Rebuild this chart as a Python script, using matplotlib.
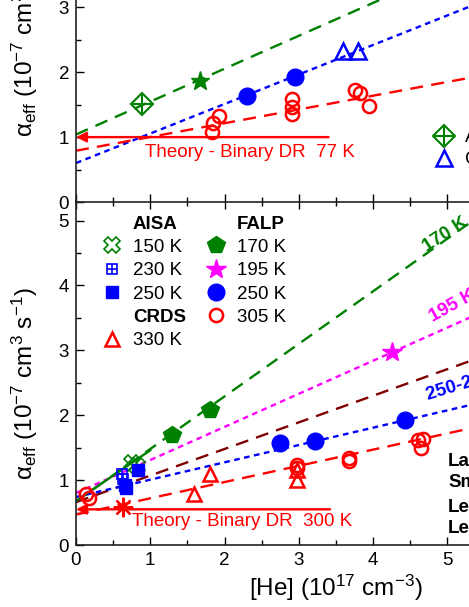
import numpy as np
import matplotlib.pyplot as plt
from matplotlib.lines import Line2D

plt.rcParams['font.family'] = ['Liberation Sans', 'DejaVu Sans']
plt.rcParams['mathtext.default'] = 'regular'

# lower panel data (x in 1e17 cm-3, alpha in 1e-7 cm3 s-1)
aisa150_x = [0.75, 0.82]
aisa150_y = [1.27, 1.22]
aisa230_x = [0.62, 0.63]
aisa230_y = [1.10, 1.02]
aisa250_x = [0.66, 0.68, 0.83]
aisa250_y = [0.93, 0.88, 1.16]
crds330_x = [1.59, 1.80, 2.98, 2.98]
crds330_y = [0.78, 1.09, 1.15, 1.00]
falp170_x = [1.29, 1.81]
falp170_y = [1.69, 2.08]
falp195_x = [4.26]
falp195_y = [2.97]
falp250_x = [2.75, 3.22, 4.43]
falp250_y = [1.57, 1.60, 1.92]
falp305_x = [0.13, 0.17, 2.98, 2.98, 3.67, 3.67, 4.60, 4.67, 4.64]
falp305_y = [0.78, 0.72, 1.23, 1.18, 1.34, 1.29, 1.62, 1.64, 1.49]
aster_x = [0.63]
aster_y = [0.58]

# linear fits, (intercept, slope)
fit150 = (0.68, 0.78)
fit170 = (0.67, 0.81)
fit195 = (0.80, 0.51)
fit_dark = (0.66, 0.41)
fit250 = (0.74, 0.267)
fit305 = (0.47, 0.25)

theory300 = 0.55
theory300_end = 3.42

# upper panel data (77 K)
top_aisa_x = [0.89]
top_aisa_y = [1.51]
top_star_x = [1.67]
top_star_y = [1.87]
top_falp_x = [2.30, 2.95]
top_falp_y = [1.64, 1.93]
top_crds_x = [3.60, 3.80]
top_crds_y = [2.32, 2.32]
top_red_x = [1.83, 1.85, 1.92, 2.91, 2.91, 2.91, 3.76, 3.83, 3.94]
top_red_y = [1.08, 1.22, 1.32, 1.58, 1.47, 1.35, 1.72, 1.68, 1.48]

top_fit_green = (1.04, 0.507)
top_fit_blue = (0.60, 0.455)
top_fit_red = (0.79, 0.212)

theory77 = 1.0
theory77_end = 3.40

right_notes = ['Laube', 'Smith', 'Leu', 'Lee']
right_notes_y = [1.29, 0.97, 0.58, 0.25]

GREEN = '#008000'
BLUE = '#0000ff'
RED = '#ff0000'
MAG = '#ff00ff'
DARK = '#800000'
LONG = (5.5, 3.5)
SHORT = (2.4, 1.9)
FS = 13.5

fig = plt.figure(figsize=(4.69, 6.07), dpi=100)
ax = fig.add_axes([0.162, 0.1021, 1.1087, 0.5667])
ax_top = fig.add_axes([0.162, 0.6672, 1.1087, 0.5667])

xfit = np.linspace(0, 7, 50)


def fit_line(axes, fit, color, dashes, lw=1.7):
    axes.plot(xfit, fit[0] + fit[1] * xfit, color=color, lw=lw, dashes=dashes, zorder=2)


def style_axes(axes, show_xlabels=True):
    axes.set_xlim(0, 7)
    axes.set_ylim(0, 5.3)
    axes.set_xticks(np.arange(0, 8, 1))
    axes.set_xticks(np.arange(0, 7.5, 0.5), minor=True)
    axes.set_yticks(np.arange(0, 6, 1))
    axes.set_yticks(np.arange(0, 5.5, 0.5), minor=True)
    axes.tick_params(which='both', direction='in', top=True, right=True, width=1.0,
                     labelsize=FS, pad=5, labelbottom=show_xlabels)
    axes.tick_params(which='major', length=6)
    axes.tick_params(which='minor', length=3.5)
    for sp in axes.spines.values():
        sp.set_linewidth(1.2)
        sp.set_color('#222222')
    axes.set_ylabel(r'α$_{eff}$ (10$^{-7}$ cm$^{3}$ s$^{-1}$)', fontsize=17.5)
    axes.yaxis.set_label_coords(-0.07, 0.47)


# ---------- lower panel ----------
fit_line(ax, fit170, GREEN, LONG)
fit_line(ax, fit195, MAG, SHORT)
fit_line(ax, fit_dark, DARK, LONG)
fit_line(ax, fit250, BLUE, SHORT)
fit_line(ax, fit305, RED, LONG)
x150 = np.linspace(0, 1.0, 10)
ax.plot(x150, fit150[0] + fit150[1] * x150, color=GREEN, lw=1.7, zorder=2)

ax.annotate('', xy=(0, theory300), xytext=(theory300_end, theory300),
            arrowprops=dict(arrowstyle='-|>', color=RED, lw=1.7, mutation_scale=15,
                            shrinkA=0, shrinkB=0))
ax.text(0.75, 0.37, 'Theory - Binary DR  300 K', color=RED, fontsize=FS, va='center')

ax.plot(aisa150_x, aisa150_y, ls='none', marker='X', ms=11, mfc='none', mec=GREEN, mew=1.2)
ax.plot(aisa230_x, aisa230_y, ls='none', marker='s', ms=7.5, mfc='none', mec=BLUE, mew=1.2)
ax.plot(aisa230_x, aisa230_y, ls='none', marker='+', ms=7.5, mec=BLUE, mew=1.2)
ax.plot(aisa250_x, aisa250_y, ls='none', marker='s', ms=8, color=BLUE)
ax.plot(crds330_x, crds330_y, ls='none', marker='^', ms=10, mfc='none', mec=RED, mew=1.8)
ax.plot(falp170_x, falp170_y, ls='none', marker='p', ms=13, color=GREEN)
ax.plot(falp195_x, falp195_y, ls='none', marker='*', ms=15, color=MAG)
ax.plot(falp250_x, falp250_y, ls='none', marker='o', ms=12, color=BLUE)
ax.plot(falp305_x, falp305_y, ls='none', marker='o', ms=9.5, mfc='none', mec=RED, mew=1.8)
ax.plot(aster_x, aster_y, ls='none', marker=(8, 2, 0), ms=14, mec=RED, mew=1.6)

ax.text(4.72, 4.51, '170 K', color=GREEN, fontsize=FS, fontweight='bold',
        rotation=33, rotation_mode='anchor')
ax.text(4.81, 3.43, '195 K', color=MAG, fontsize=FS, fontweight='bold',
        rotation=29, rotation_mode='anchor')
ax.text(4.74, 2.23, '250-270 K', color=BLUE, fontsize=FS, fontweight='bold',
        rotation=17, rotation_mode='anchor')
for note, ny in zip(right_notes, right_notes_y):
    ax.text(5.01, ny, note, fontsize=FS, fontweight='bold', va='center')

blank = Line2D([], [], ls='none')
h150 = Line2D([], [], ls='none', marker='X', ms=11, mfc='none', mec=GREEN, mew=1.2)
h230 = (Line2D([], [], ls='none', marker='s', ms=7.5, mfc='none', mec=BLUE, mew=1.2),
        Line2D([], [], ls='none', marker='+', ms=7.5, mec=BLUE, mew=1.2))
h250a = Line2D([], [], ls='none', marker='s', ms=8, color=BLUE)
h330 = Line2D([], [], ls='none', marker='^', ms=10, mfc='none', mec=RED, mew=1.8)
h170 = Line2D([], [], ls='none', marker='p', ms=13, color=GREEN)
h195 = Line2D([], [], ls='none', marker='*', ms=15, color=MAG)
h250f = Line2D([], [], ls='none', marker='o', ms=12, color=BLUE)
h305 = Line2D([], [], ls='none', marker='o', ms=9.5, mfc='none', mec=RED, mew=1.8)
handles = [blank, h150, h230, h250a, blank, h330, blank, h170, h195, h250f, h305]
labels = ['AISA', '150 K', '230 K', '250 K', 'CRDS', '330 K',
          'FALP', '170 K', '195 K', '250 K', '305 K']
leg = ax.legend(handles, labels, ncol=2, loc='upper left', bbox_to_anchor=(0.052, 0.958),
                frameon=False, fontsize=FS, handlelength=1.0, handletextpad=0.6,
                labelspacing=0.33, columnspacing=1.1, borderpad=0, borderaxespad=0)
for t in leg.get_texts():
    if t.get_text() in ('AISA', 'CRDS', 'FALP'):
        t.set_fontweight('bold')

style_axes(ax)
ax.set_xlabel(r'[He] (10$^{17}$ cm$^{-3}$)', fontsize=17.5, labelpad=3)

# ---------- upper panel ----------
fit_line(ax_top, top_fit_green, GREEN, LONG)
fit_line(ax_top, top_fit_blue, BLUE, SHORT)
fit_line(ax_top, top_fit_red, RED, LONG)

ax_top.annotate('', xy=(0, theory77), xytext=(theory77_end, theory77),
                arrowprops=dict(arrowstyle='-|>', color=RED, lw=1.7, mutation_scale=15,
                                shrinkA=0, shrinkB=0))
ax_top.text(0.93, 0.77, 'Theory - Binary DR  77 K', color=RED, fontsize=FS, va='center')

ax_top.plot(top_aisa_x, top_aisa_y, ls='none', marker='D', ms=11, mfc='none', mec=GREEN, mew=1.5)
ax_top.plot(top_aisa_x, top_aisa_y, ls='none', marker='+', ms=13, mec=GREEN, mew=1.5)
ax_top.plot(top_star_x, top_star_y, ls='none', marker='*', ms=14, color=GREEN)
ax_top.plot(top_falp_x, top_falp_y, ls='none', marker='o', ms=12, color=BLUE)
ax_top.plot(top_crds_x, top_crds_y, ls='none', marker='^', ms=12, mfc='none', mec=BLUE, mew=1.8)
ax_top.plot(top_red_x, top_red_y, ls='none', marker='o', ms=9.5, mfc='none', mec=RED, mew=1.8)

t_aisa = (Line2D([], [], ls='none', marker='D', ms=11, mfc='none', mec=GREEN, mew=1.5),
          Line2D([], [], ls='none', marker='+', ms=13, mec=GREEN, mew=1.5))
t_crds = Line2D([], [], ls='none', marker='^', ms=12, mfc='none', mec=BLUE, mew=1.8)
ax_top.legend([t_aisa, t_crds], ['AISA', 'CRDS'], loc='upper left',
              bbox_to_anchor=(4.83, 1.12), bbox_transform=ax_top.transData,
              frameon=False, fontsize=FS, handlelength=1.0, handletextpad=0.6,
              labelspacing=0.25, borderpad=0, borderaxespad=0)

style_axes(ax_top, show_xlabels=False)

fig.savefig('out.png', dpi=100)
